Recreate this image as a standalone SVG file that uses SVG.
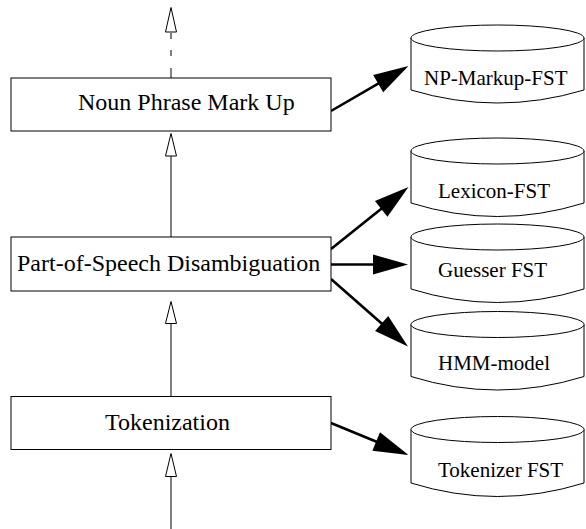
<svg xmlns="http://www.w3.org/2000/svg" width="586" height="529" viewBox="0 0 586 529">
  <style>
    .box { fill: #fff; stroke: #000; stroke-width: 1; }
    .cyl { fill: #fff; stroke: #000; stroke-width: 1; }
    .lbl { font-family: "Liberation Serif", "Times New Roman", serif; font-size: 24px; fill: #000; }
    .clbl { font-family: "Liberation Serif", "Times New Roman", serif; font-size: 21px; fill: #000; }
    .thin { fill: none; stroke: #000; stroke-width: 1; }
    .hollow { fill: #fff; stroke: #000; stroke-width: 1; }
    .thick { fill: none; stroke: #000; stroke-width: 2.6; marker-end: url(#head); }
  </style>
  <defs>
    <marker id="head" markerUnits="userSpaceOnUse" markerWidth="36" markerHeight="21" refX="5" refY="10" orient="auto" viewBox="0 0 36 21" overflow="visible">
      <path d="M0,0 L35,10 L0,20 Z" fill="#000"/>
    </marker>
  </defs>
  <rect width="586" height="529" fill="#fff"/>

  <g id="connectors">
    <!-- vertical flow -->
    <path class="thin" d="M171,33 V39 M171,50 V56 M171,68 V78"/>
    <polygon class="hollow" points="171,7.5 165.5,32 176.5,32"/>
    <line class="thin" x1="171" y1="156" x2="171" y2="237"/>
    <polygon class="hollow" points="171,133.5 165.5,156 176.5,156"/>
    <line class="thin" x1="171" y1="323.5" x2="171" y2="396.5"/>
    <polygon class="hollow" points="171,301.5 165.5,323.5 176.5,323.5"/>
    <line class="thin" x1="171" y1="476.5" x2="171" y2="529"/>
    <polygon class="hollow" points="171,453.5 165.5,476.5 176.5,476.5"/>
    <!-- resource arrows -->
    <line class="thick" x1="331" y1="111" x2="382.5" y2="81.1"/>
    <line class="thick" x1="331" y1="249" x2="385.1" y2="205.75"/>
    <line class="thick" x1="331" y1="264.5" x2="378" y2="264.5"/>
    <line class="thick" x1="331" y1="279" x2="385.4" y2="326.7"/>
    <line class="thick" x1="331" y1="423" x2="380.8" y2="443.5"/>
  </g>

  <g id="np-markup">
    <rect class="box" x="11" y="78" width="320" height="53"/>
    <text class="lbl" x="78" y="110">Noun Phrase Mark Up</text>
  </g>
  <g id="pos-disambiguation">
    <rect class="box" x="11" y="237" width="320" height="54"/>
    <text class="lbl" x="17" y="271">Part-of-Speech Disambiguation</text>
  </g>
  <g id="tokenization">
    <rect class="box" x="11" y="396.5" width="320" height="53"/>
    <text class="lbl" x="105" y="430">Tokenization</text>
  </g>

  <g id="np-markup-fst">
    <path class="cyl" d="M411,38 V90 Q497.5,116 584,90 V38"/>
    <ellipse class="cyl" cx="497.5" cy="38" rx="86.5" ry="13"/>
    <text class="clbl" x="424" y="85">NP-Markup-FST</text>
  </g>
  <g id="lexicon-fst">
    <path class="cyl" d="M411,151 V203 Q497.5,230 584,203 V151"/>
    <ellipse class="cyl" cx="497.5" cy="151" rx="86.5" ry="13"/>
    <text class="clbl" x="438" y="198">Lexicon-FST</text>
  </g>
  <g id="guesser-fst">
    <path class="cyl" d="M411,237 V289 Q497.5,316 584,289 V237"/>
    <ellipse class="cyl" cx="497.5" cy="237" rx="86.5" ry="13"/>
    <text class="clbl" x="438" y="277">Guesser FST</text>
  </g>
  <g id="hmm-model">
    <path class="cyl" d="M411,324.5 V376.5 Q497.5,403.5 584,376.5 V324.5"/>
    <ellipse class="cyl" cx="497.5" cy="324.5" rx="86.5" ry="13"/>
    <text class="clbl" x="438" y="370">HMM-model</text>
  </g>
  <g id="tokenizer-fst">
    <path class="cyl" d="M411,429.5 V483 Q497.5,510 584,483 V429.5"/>
    <ellipse class="cyl" cx="497.5" cy="429.5" rx="86.5" ry="13"/>
    <text class="clbl" x="438" y="477">Tokenizer FST</text>
  </g>
</svg>
